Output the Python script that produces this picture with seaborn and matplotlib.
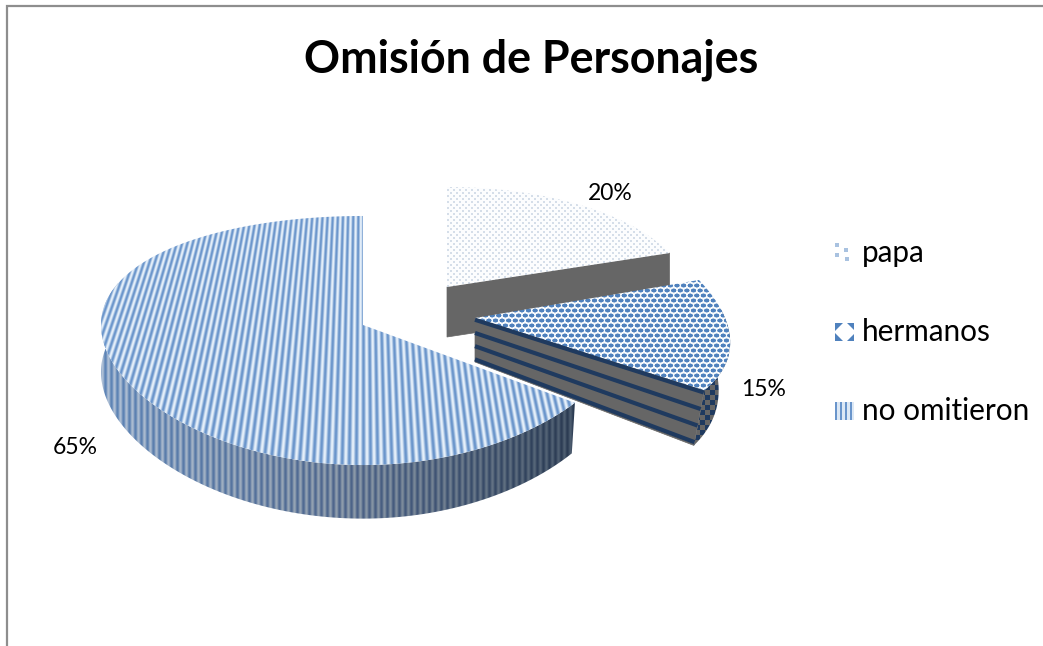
import numpy as np
import matplotlib
matplotlib.use("Agg")
import matplotlib.pyplot as plt
import seaborn as sns
from matplotlib.patches import Polygon

# ---- data ----
categories = ["papa", "hermanos", "no omitieron"]
percent = [20, 15, 65]
title = "Omisión de Personajes"

# ---- style / geometry ----
sns.set_theme(style="white")
plt.rcParams["font.family"] = ["Lato", "DejaVu Sans"]
W, H = 1043, 646
BLUE, NAVY, GRAY = "#4F81BD", "#1F3A5F", "#666666"

GEOM = {  # projection of the exploded, tilted slices
    "papa": dict(ax=447, ay=287, rx=243, ry=115, kx=.1245, ky=.15, d=50, g=0, s=1.0),
    "hermanos": dict(ax=475, ay=318, rx=250, ry=123, kx=.2, ky=0, d=44, g=.35, s=.955),
    "no omitieron": dict(ax=363, ay=325, rx=262, ry=122.6, kx=0, ky=.1245, d=47, g=.1, s=.985),
}
LABEL_POS = {"papa": (610, 193), "hermanos": (764, 389), "no omitieron": (75, 447)}
LEGEND_Y = {"papa": 253, "hermanos": 332, "no omitieron": 411}


def rgb(c):
    return np.array(matplotlib.colors.to_rgb(c))


yy, xx = np.mgrid[0:H, 0:W]


def paint(mask, col_a, col_b):
    m = mask.astype(float)[..., None]
    return m * col_a + (1 - m) * col_b


def tex_dots():
    a = (xx % 6 < 2) & (yy % 6 < 2)
    b = ((xx + 3) % 6 < 2) & ((yy + 3) % 6 < 2)
    return paint(a | b, rgb("#D5DEE9"), rgb("#FCFDFE"))


def tex_check():
    px, py = 6.6, 10.0
    def blob(ox, oy):
        dx = np.abs(((xx + ox) % px) - px / 2) / (px / 2)
        dy = np.abs(((yy + oy) % py) - py / 2) / (py / 2)
        return (dx ** 2 + (dy * 2) ** 2)
    d = np.minimum(blob(0, 0), blob(px / 2, py / 2))
    t = np.clip((0.82 - d) / .35, 0, 1)[..., None]
    return t * rgb(BLUE) + (1 - t) * rgb("#F7FAFD")


def tex_stripes():
    p = (xx - 363) / (1 + .00135 * (yy - 325)) / 6.0
    t = (.5 + .5 * np.cos(2 * np.pi * p))[..., None]
    return t * rgb("#6A95CB") + (1 - t) * rgb("#E6F0FA")


def tex_wall():
    p = (xx - 363) / 6.0
    t = (.5 + .5 * np.cos(2 * np.pi * p))[..., None]
    f = np.clip((xx - 100) / 475, 0, 1)[..., None]
    w0 = np.clip(1 - 2 * f, 0, 1)
    w2 = np.clip(2 * f - 1, 0, 1)
    w1 = 1 - w0 - w2
    dark = w0 * rgb("#5F86B8") + w1 * rgb("#4F668C") + w2 * rgb("#2B3B52")
    light = w0 * rgb("#AFC0D6") + w1 * rgb("#8F9DAC") + w2 * rgb("#4A5A6D")
    return t * dark + (1 - t) * light


def tex_navy_dots():
    return paint(((xx // 5 + yy // 5) % 2) == 0, rgb(NAVY), rgb(GRAY))


def project(name, angles):
    g = GEOM[name]
    u, v = np.sin(np.radians(angles)), -np.cos(np.radians(angles))
    return g["ax"] + g["rx"] * u / (1 - g["kx"] * v), g["ay"] + g["ry"] * v / (1 - g["ky"] * v)


def drop(name, x, y):
    g = GEOM[name]
    x = np.asarray(x, float)
    sx = np.where(x > g["ax"], g["s"], 1.0)
    return (g["ax"] + (x - g["ax"]) * sx,
            y + g["d"] * (1 + g["g"] * (y - g["ay"]) / 100))


def textured(ax, pts, arr):
    poly = Polygon(pts, closed=True, transform=ax.transData, fc="none", ec="none")
    ax.add_patch(poly)
    im = ax.imshow(arr, extent=(0, W, H, 0), interpolation="bilinear", aspect="auto", zorder=poly.get_zorder())
    im.set_clip_path(poly)


def top_pts(name, a0, a1):
    g = GEOM[name]
    x, y = project(name, np.linspace(a0, a1, 120))
    return np.column_stack([np.r_[g["ax"], x], np.r_[g["ay"], y]])


fig = plt.figure(figsize=(W / 100, H / 100), dpi=100)
ax = fig.add_axes([0, 0, 1, 1])

edges = np.r_[0, np.cumsum(percent)] / np.sum(percent) * 360
span = dict(zip(categories, zip(edges[:-1], edges[1:])))

# papa
a0, a1 = span["papa"]
g = GEOM["papa"]
ex, ey = project("papa", np.array([a1]))
pb = drop("papa", ex[0], ey[0])
qb = drop("papa", g["ax"], g["ay"])
ax.add_patch(Polygon([(g["ax"], g["ay"]), (ex[0], ey[0]), (float(pb[0]), pb[1]), (float(qb[0]), qb[1])],
                     closed=True, fc=GRAY, ec=GRAY, lw=.5))
textured(ax, top_pts("papa", a0, a1), tex_dots())

# hermanos
a0, a1 = span["hermanos"]
g = GEOM["hermanos"]
th = np.linspace(a0 + 14, a1, 60)
x, y = project("hermanos", th)
bx, by = drop("hermanos", x, y)
textured(ax, np.column_stack([np.r_[x, bx[::-1]], np.r_[y, by[::-1]]]), tex_navy_dots())
ex, ey = project("hermanos", np.array([a1]))
bex, bey = drop("hermanos", ex, ey)
bax, bay = drop("hermanos", g["ax"], g["ay"])
bax = float(bax)
ax.add_patch(Polygon([(g["ax"], g["ay"]), (ex[0], ey[0]), (bex[0], bey[0]), (bax, bay)], closed=True, fc=GRAY, ec=GRAY, lw=.5))
for f in (.04, .34, .64, .94):
    ax.plot([g["ax"] + (bax - g["ax"]) * f, ex[0] + (bex[0] - ex[0]) * f],
            [g["ay"] + (bay - g["ay"]) * f, ey[0] + (bey[0] - ey[0]) * f],
            color=NAVY, lw=3.0, solid_capstyle="butt", zorder=2)
textured(ax, top_pts("hermanos", a0, a1), tex_check())

# no omitieron
a0, a1 = span["no omitieron"]
th = np.linspace(a0, a0 + 165, 160)
x, y = project("no omitieron", th)
bx, by = drop("no omitieron", x, y)
textured(ax, np.column_stack([np.r_[x, bx[::-1]], np.r_[y, by[::-1]]]), tex_wall())
textured(ax, top_pts("no omitieron", a0, a1), tex_stripes())

# chart frame (top and left edges visible, others run off the canvas)
ax.plot([W + 5, 7, 7], [6, 6, H + 5], color="#8E8E8E", lw=1.6, solid_joinstyle="miter")

# text
ax.text(531, 60, title, ha="center", va="center", fontsize=32.2, fontweight="bold", color="black")
for name, val in zip(categories, percent):
    lx, ly = LABEL_POS[name]
    ax.text(lx, ly, f"{val}%", ha="center", va="center", fontsize=16.5, color="black")
    ax.text(862, LEGEND_Y[name], name, ha="left", va="center", fontsize=21.4, color="black")

# legend keys
for name in categories:
    c = LEGEND_Y[name]
    sq = [(835, c - 9), (854, c - 9), (854, c + 9), (835, c + 9)]
    if name == "papa":
        for (dx, dy) in [(837, -8), (837, 2), (846, -3), (847, 6)]:
            ax.plot([dx], [c + dy], "s", ms=2.2, color="#A9C2E0", mew=0)
    elif name == "hermanos":
        ax.add_patch(Polygon(sq, closed=True, fc=BLUE, ec="none"))
        ax.plot([844.5], [c], "D", ms=11, color="white", mew=0)
    else:
        textured(ax, sq, paint(((xx - 835) % 5) < 2, rgb("#6A95CB"), rgb("#DCE8F5")))

ax.set_xlim(0, W)
ax.set_ylim(H, 0)
ax.axis("off")
fig.savefig("out.png", dpi=100, facecolor="white")
